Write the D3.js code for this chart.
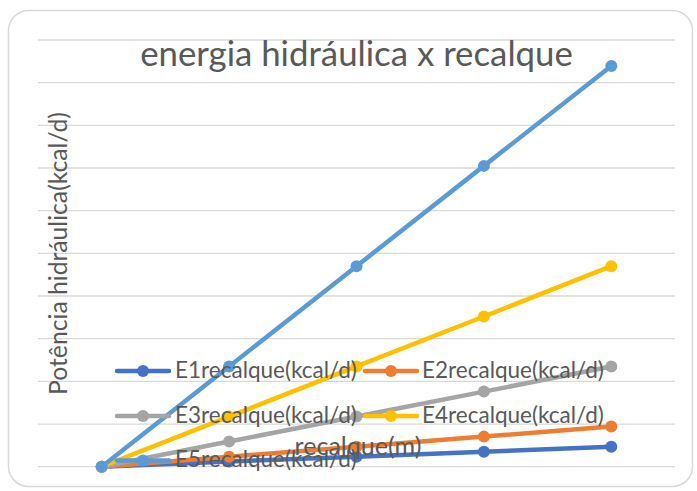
<!DOCTYPE html>
<html><head><meta charset="utf-8">
<script src="https://cdn.jsdelivr.net/npm/d3@7"></script>
<style>html,body{margin:0;padding:0;background:#fff;} svg{display:block;}</style>
</head><body>
<svg id="chart" width="697" height="491"></svg>
<script>
// ---- data ----
const categories = [0, 10, 20, 30, 40]; // recalque (m) – not labelled on the chart
const E1 = [0, 120, 235, 350, 470];
const E2 = [0, 235, 470, 705, 940];
const E3 = [0, 590, 1175, 1760, 2350];
const E4 = [0, 1175, 2350, 3520, 4700];
const E5 = [0, 2350, 4700, 7050, 9390];
const seriesNames = ["E1recalque(kcal/d)","E2recalque(kcal/d)","E3recalque(kcal/d)","E4recalque(kcal/d)","E5recalque(kcal/d)"];
const seriesColors = ["#4472C4","#ED7D31","#A5A5A5","#FFC000","#5B9BD5"];
const yTicks = [0,1000,2000,3000,4000,5000,6000,7000,8000,9000,10000];
const title = "energia hidráulica x recalque";
const xTitle = "recalque(m)";
const yTitle = "Potência hidráulica(kcal/d)";

const series = [E1,E2,E3,E4,E5].map((v,i)=>({name:seriesNames[i], color:seriesColors[i], values:v}));

const svg = d3.select("#chart");
const FONT = "Lato, 'Open Sans', sans-serif";
const TXT = "#595959";

// frame
svg.append("rect").attr("x",8.5).attr("y",10.5).attr("width",684).attr("height",476)
  .attr("rx",20).attr("fill","#fff").attr("stroke","#d9d9d9").attr("stroke-width",1.5);

const plot = {left:38, right:675, top:40, bottom:466.7};
const x = d3.scaleBand().domain(categories).range([plot.left, plot.right]).padding(0);
const y = d3.scaleLinear().domain([0,10000]).range([plot.bottom, plot.top]);

// gridlines
svg.append("g").selectAll("line").data(yTicks).join("line")
  .attr("x1",plot.left).attr("x2",plot.right)
  .attr("y1",d=>y(d)).attr("y2",d=>y(d))
  .attr("stroke","#d9d9d9").attr("stroke-width",1.3);

const cx = d => x(d) + x.bandwidth()/2;
const line = d3.line().x((d,i)=>cx(categories[i])).y(d=>y(d));

const gs = svg.append("g").selectAll("g").data(series).join("g");
gs.append("path").attr("d",d=>line(d.values)).attr("fill","none")
  .attr("stroke",d=>d.color).attr("stroke-width",4.5).attr("stroke-linejoin","round").attr("stroke-linecap","round");
gs.selectAll("circle").data(d=>d.values.map((v,i)=>({v,i,color:d.color}))).join("circle")
  .attr("cx",d=>cx(categories[d.i])).attr("cy",d=>y(d.v)).attr("r",6)
  .attr("fill",d=>d.color);

function fit(sel, target){
  const w = sel.node().getComputedTextLength();
  const fs = parseFloat(sel.attr("font-size"));
  sel.attr("font-size", fs*target/w);
  return sel;
}

// title
fit(svg.append("text").text(title).attr("x",356.5).attr("y",66).attr("text-anchor","middle")
  .attr("font-family",FONT).attr("font-size",26).attr("fill",TXT), 433);

// legend
const legendPos = [
  {mx:143, my:371, tx:175},
  {mx:391, my:371, tx:422},
  {mx:143, my:416, tx:175},
  {mx:391, my:416, tx:422},
  {mx:143, my:460.5, tx:175}
];
const lg = svg.append("g").selectAll("g").data(series).join("g");
lg.append("line").attr("x1",(d,i)=>legendPos[i].mx-26).attr("x2",(d,i)=>legendPos[i].mx+26)
  .attr("y1",(d,i)=>legendPos[i].my).attr("y2",(d,i)=>legendPos[i].my)
  .attr("stroke",d=>d.color).attr("stroke-width",4.5).attr("stroke-linecap","round");
lg.append("circle").attr("cx",(d,i)=>legendPos[i].mx).attr("cy",(d,i)=>legendPos[i].my).attr("r",6)
  .attr("fill",d=>d.color);
lg.append("text").text(d=>d.name).attr("x",(d,i)=>legendPos[i].tx).attr("y",(d,i)=>legendPos[i].my+6.5)
  .attr("font-family",FONT).attr("font-size",20).attr("fill",TXT)
  .each(function(){ fit(d3.select(this), 182); });

// axis titles
fit(svg.append("text").text(xTitle).attr("x",358).attr("y",455).attr("text-anchor","middle")
  .attr("font-family",FONT).attr("font-size",20).attr("fill",TXT), 127);
fit(svg.append("text").text(yTitle).attr("transform","translate(67,253.5) rotate(-90)").attr("text-anchor","middle")
  .attr("font-family",FONT).attr("font-size",20).attr("fill",TXT), 283);
</script>
</body></html>
